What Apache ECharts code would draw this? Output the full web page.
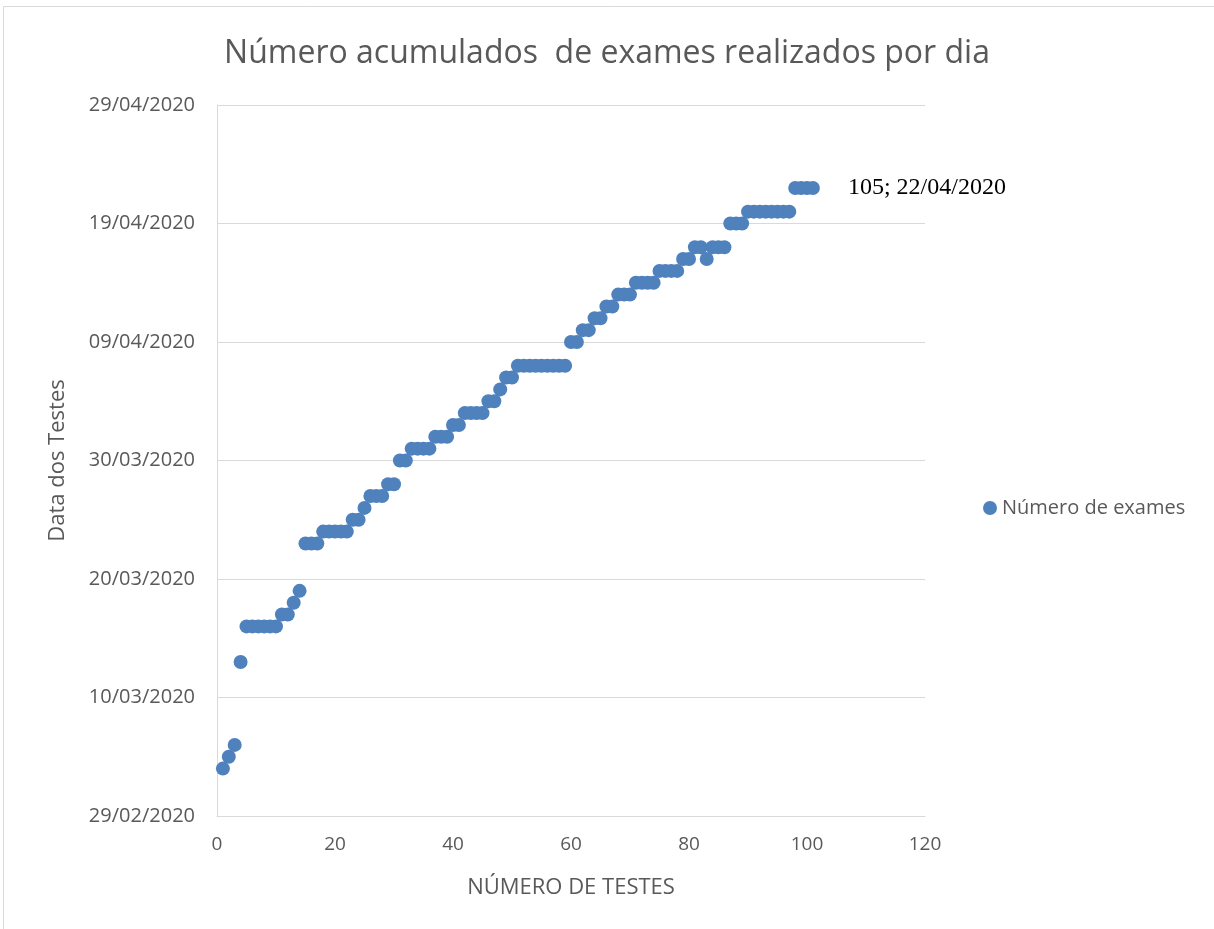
<!DOCTYPE html>
<html><head><meta charset="utf-8">
<script src="https://cdn.jsdelivr.net/npm/echarts@6/dist/echarts.min.js"></script>
<style>html,body{margin:0;padding:0;background:#fff}#c{width:1214px;height:929px}</style>
</head><body><div id="c"></div>
<script>
// Test number (x) and test date (y)
const testNumbers = [1,2,3,4,5,6,7,8,9,10,11,12,13,14,15,16,17,18,19,20,21,22,23,24,25,26,27,28,29,30,31,32,33,34,35,36,37,38,39,40,41,42,43,44,45,46,47,48,49,50,51,52,53,54,55,56,57,58,59,60,61,62,63,64,65,66,67,68,69,70,71,72,73,74,75,76,77,78,79,80,81,82,83,84,85,86,87,88,89,90,91,92,93,94,95,96,97,98,99,100,101];
const testDates = [
 '04/03/2020','05/03/2020','06/03/2020','13/03/2020',
 '16/03/2020','16/03/2020','16/03/2020','16/03/2020','16/03/2020','16/03/2020',
 '17/03/2020','17/03/2020','18/03/2020','19/03/2020',
 '23/03/2020','23/03/2020','23/03/2020',
 '24/03/2020','24/03/2020','24/03/2020','24/03/2020','24/03/2020',
 '25/03/2020','25/03/2020','26/03/2020',
 '27/03/2020','27/03/2020','27/03/2020','28/03/2020','28/03/2020',
 '30/03/2020','30/03/2020',
 '31/03/2020','31/03/2020','31/03/2020','31/03/2020',
 '01/04/2020','01/04/2020','01/04/2020','02/04/2020','02/04/2020',
 '03/04/2020','03/04/2020','03/04/2020','03/04/2020',
 '04/04/2020','04/04/2020','05/04/2020','06/04/2020','06/04/2020',
 '07/04/2020','07/04/2020','07/04/2020','07/04/2020','07/04/2020','07/04/2020','07/04/2020','07/04/2020','07/04/2020',
 '09/04/2020','09/04/2020','10/04/2020','10/04/2020','11/04/2020','11/04/2020','12/04/2020','12/04/2020',
 '13/04/2020','13/04/2020','13/04/2020',
 '14/04/2020','14/04/2020','14/04/2020','14/04/2020',
 '15/04/2020','15/04/2020','15/04/2020','15/04/2020',
 '16/04/2020','16/04/2020','17/04/2020','17/04/2020','16/04/2020','17/04/2020','17/04/2020','17/04/2020',
 '19/04/2020','19/04/2020','19/04/2020',
 '20/04/2020','20/04/2020','20/04/2020','20/04/2020','20/04/2020','20/04/2020','20/04/2020','20/04/2020',
 '22/04/2020','22/04/2020','22/04/2020','22/04/2020'
];
const lastLabel = '105; 22/04/2020';
const axisStartDate = '29/02/2020';
const seriesName = 'Número de exames';

const DAY = 86400000;
function parseDate(s){const p=s.split('/');return Date.UTC(+p[2],+p[1]-1,+p[0]);}
const base = parseDate(axisStartDate);
function dayOffset(s){return Math.round((parseDate(s)-base)/DAY);}
function fmt(v){const d=new Date(base+v*DAY);const dd=String(d.getUTCDate()).padStart(2,'0');const mm=String(d.getUTCMonth()+1).padStart(2,'0');return dd+'/'+mm+'/'+d.getUTCFullYear();}

const data = testNumbers.map((n,i)=>{
  const pt = {value:[n, dayOffset(testDates[i])]};
  if(i===testNumbers.length-1){pt.label={show:true,position:'right',distance:28,formatter:lastLabel,fontFamily:'Liberation Serif',fontSize:24,color:'#000'};}
  return pt;
});

const chart = echarts.init(document.getElementById('c'));
const txt = '#595959';
chart.setOption({
  animation:false,
  textStyle:{fontFamily:'Open Sans'},
  graphic:[{type:'rect',shape:{x:3.5,y:6.5,width:1220,height:940},style:{fill:'none',stroke:'#d9d9d9',lineWidth:1},silent:true}],
  title:{text:'Número acumulados  de exames realizados por dia',left:'center',top:33,
    textStyle:{fontFamily:'Open Sans',fontSize:32,fontWeight:'normal',color:txt}},
  legend:{data:[seriesName],left:978,top:493,itemWidth:14,itemHeight:14,itemGap:4,
    textStyle:{fontFamily:'Open Sans',fontSize:20,color:txt},icon:'circle'},
  grid:{left:217,right:289,top:105,bottom:113,containLabel:false},
  xAxis:{type:'value',min:0,max:120,interval:20,
    name:'NÚMERO DE TESTES',nameLocation:'middle',nameGap:61,
    nameTextStyle:{fontFamily:'Open Sans',fontSize:22,color:txt},
    axisLine:{show:true,lineStyle:{color:'#d9d9d9'}},axisTick:{show:false},
    axisLabel:{fontSize:19,color:txt,margin:19},splitLine:{show:false}},
  yAxis:{type:'value',min:0,max:60,interval:10,
    name:'Data dos Testes',nameLocation:'middle',nameGap:148,nameRotate:90,
    nameTextStyle:{fontFamily:'Open Sans',fontSize:22,color:txt},
    axisLine:{show:true,lineStyle:{color:'#d9d9d9'}},axisTick:{show:false},
    axisLabel:{fontSize:20,color:txt,margin:22,formatter:fmt},
    splitLine:{show:true,lineStyle:{color:'#d9d9d9',width:1}}},
  series:[{name:seriesName,type:'scatter',symbol:'circle',symbolSize:14,
    itemStyle:{color:'#4f81bd',opacity:1},data:data}]
});
</script></body></html>
